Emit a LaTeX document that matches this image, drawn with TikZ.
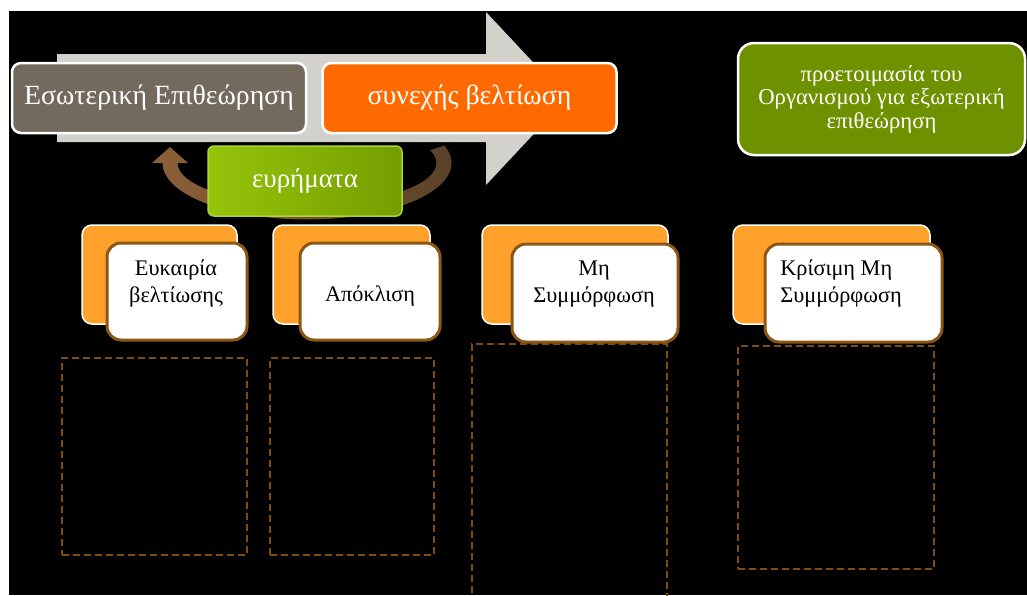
\documentclass[tikz,border=0pt]{standalone}
\usepackage{fontspec}
\setmainfont{Liberation Serif}
\usetikzlibrary{calc}

\definecolor{arrowgrey}{RGB}{210,209,204}
\definecolor{boxgrey}{RGB}{115,105,93}
\definecolor{boxorange}{RGB}{255,106,0}
\definecolor{findlight}{RGB}{150,196,10}
\definecolor{finddark}{RGB}{116,158,0}
\definecolor{findedge}{RGB}{170,214,60}
\definecolor{olive}{RGB}{110,145,0}
\definecolor{bandlight}{RGB}{140,96,56}
\definecolor{banddark}{RGB}{88,64,40}
\definecolor{cardorange}{RGB}{255,161,42}
\definecolor{cardedge}{RGB}{140,86,20}
\definecolor{dashbrown}{RGB}{125,76,14}

\begin{document}
\begin{tikzpicture}[x=1pt,y=-1pt,
  topbox/.style={draw=white, line width=2.5pt, rounded corners=9pt,
    minimum width=294pt, minimum height=70pt, inner sep=0pt, text=white,
    font=\fontsize{27.8}{31}\selectfont},
  findbox/.style={draw=findedge, line width=1.5pt, rounded corners=6pt,
    left color=findlight, right color=finddark,
    minimum width=194pt, minimum height=70pt, inner sep=0pt, text=white,
    font=\fontsize{27}{31}\selectfont},
  prepbox/.style={draw=white, line width=2.5pt, rounded corners=16pt, fill=olive,
    minimum width=287pt, minimum height=112pt, inner sep=0pt, text=white,
    align=center, font=\fontsize{22.7}{23.5}\selectfont},
  cardback/.style={draw=white, line width=1.5pt, rounded corners=10pt, fill=cardorange,
    minimum height=99pt, inner sep=0pt},
  cardfront/.style={draw=cardedge, line width=3pt, rounded corners=14pt, fill=white,
    minimum height=97pt, inner sep=0pt},
  cardtext/.style={inner sep=0pt, text=black, font=\fontsize{22.3}{27}\selectfont},
  slot/.style={draw=dashbrown, line width=1.4pt, dash pattern=on 7pt off 4pt,
    inner sep=0pt}
]
\clip (0,0) rectangle (1027,595);
\fill[white] (0,0) rectangle (1027,595);
\fill[black] (9,11) rectangle (1027,595);

% process arrow behind the two stages
\fill[arrowgrey] (57,54) -- (486,54) -- (486,12) -- (567,98.5) -- (486,185)
  -- (486,142) -- (57,142) -- cycle;

% stages
\node[topbox, fill=boxgrey] (audit) at (159,98) {Εσωτερική Επιθεώρηση};
\node[topbox, fill=boxorange] (improve) at (469.5,98) {συνεχής βελτίωση};

% feedback loop band with arrowhead
\fill[left color=bandlight, right color=banddark]
  ($(307,163)+(-18:144.5 and 56.5)$)
  arc[start angle=-18, end angle=180, x radius=144.5, y radius=56.5]
  -- (152,163) -- (170,147) -- (188,163) -- (177.5,163)
  arc[start angle=180, end angle=-18, x radius=129.5, y radius=41.5] -- cycle;

\node[findbox] (findings) at (305,181) {ευρήματα};

% external audit preparation
\node[prepbox] (prep) at (881.5,99) {προετοιμασία του\\Οργανισμού για εξωτερική\\επιθεώρηση};

% finding categories
\node[cardback, minimum width=155pt] (b1) at (159.5,274.5) {};
\node[cardfront, minimum width=140pt] (f1) at (177,291.5) {};
\node[cardtext, align=center] (t1) at (176,284) {Ευκαιρία\\βελτίωσης};

\node[cardback, minimum width=157pt] (b2) at (351.5,274.5) {};
\node[cardfront, minimum width=140pt] (f2) at (370,291.5) {};
\node[cardtext] (t2) at (370,296) {Απόκλιση};

\node[cardback, minimum width=186pt] (b3) at (575,274.5) {};
\node[cardfront, minimum width=166pt, minimum height=98pt] (f3) at (595,293) {};
\node[cardtext, align=center] (t3) at (594,284) {Μη\\Συμμόρφωση};

\node[cardback, minimum width=197pt] (b4) at (831.5,274.5) {};
\node[cardfront, minimum width=177pt, minimum height=98pt] (f4) at (853.5,293) {};
\node[cardtext, align=left] (t4) at (841,284) {Κρίσιμη Μη\\Συμμόρφωση};

% empty slots below each category
\node[slot, minimum width=185pt, minimum height=197pt] (s1) at (154.5,456.5) {};
\node[slot, minimum width=164pt, minimum height=197pt] (s2) at (352,456.5) {};
\node[slot, minimum width=195pt, minimum height=270pt] (s3) at (569.5,479) {};
\node[slot, minimum width=196pt, minimum height=223pt] (s4) at (836,457.5) {};
\end{tikzpicture}
\end{document}
